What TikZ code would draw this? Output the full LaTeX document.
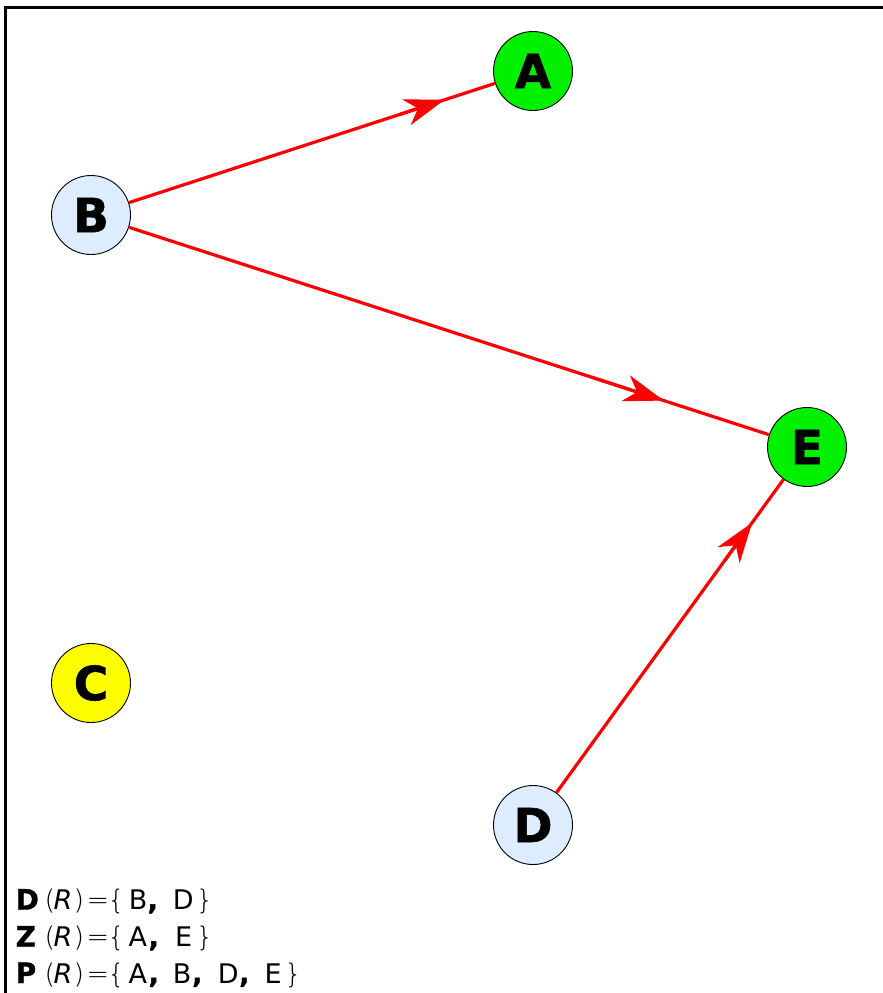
\documentclass[tikz,border=0pt]{standalone}
\usepackage{fontspec}
\setmainfont{DejaVu Sans}
\newfontfamily\heavyfont[FakeBold=1.2]{DejaVu Sans Bold}
\newfontfamily\lightfont{DejaVu Sans ExtraLight}
\usetikzlibrary{arrows.meta,calc}
\definecolor{nodegreen}{RGB}{0,240,0}
\definecolor{nodeyellow}{RGB}{255,255,0}
\definecolor{nodeblue}{RGB}{221,236,255}
\definecolor{edgered}{RGB}{255,0,0}
\tikzset{
  vertex/.style={circle, draw=black, line width=0.9pt, minimum size=79pt, inner sep=0pt,
    font=\fontsize{47}{50}\heavyfont},
  edge/.style={draw=edgered, line width=3.2pt},
  tip/.style={draw=edgered, line width=3.2pt, -{Stealth[length=40pt,width=27pt,inset=12pt,fill=edgered]}},
  legend/.style={anchor=base west, inner sep=0pt, font=\fontsize{27}{30}\selectfont}
}
\newcommand{\hv}[1]{{\heavyfont #1}}
\newcommand{\lt}[1]{{\lightfont #1}}
\newcommand{\pl}[2]{\rlap{\hspace*{#1pt}#2}}
\newcommand{\lhs}[1]{\pl{15}{{\fontsize{28}{30}\heavyfont #1}}\pl{44}{\lt{(}}\pl{53}{\textit{R}}\pl{73}{\lt{)}}\pl{86}{\lt{=}}\pl{107}{\lt{\{}}}
\begin{document}
\begin{tikzpicture}[x=1pt,y=-1pt]
\useasboundingbox (0,0) rectangle (883,993);
\fill[white] (0,0) rectangle (883,993);
\draw[line width=3pt] (5.5,1000) -- (5.5,7.5) -- (890,7.5);
\node[vertex, fill=nodegreen] (A) at (533,71) {A};
\node[vertex, fill=nodeblue] (B) at (91,215) {B};
\node[vertex, fill=nodeyellow] (C) at (91,683) {C};
\node[vertex, fill=nodeblue] (D) at (533,825) {D};
\node[vertex, fill=nodegreen] (E) at (807,447) {E};
\draw[edge] (B) -- (A);
\draw[edge] (B) -- (E);
\draw[edge] (D) -- (E);
\draw[tip] ($(B)!0.7!(A)$) -- ($(B)!0.8!(A)$);
\draw[tip] ($(B)!0.7!(E)$) -- ($(B)!0.8!(E)$);
\draw[tip] ($(D)!0.7!(E)$) -- ($(D)!0.8!(E)$);
\node[legend] (L1) at (0,909.5) {\lhs{D}\pl{128.3}{B}\pl{146.9}{\hv{,}}\pl{172.3}{D}\pl{195.4}{\lt{\}}}};
\node[legend] (L2) at (0,946.5) {\lhs{Z}\pl{127.8}{A}\pl{147.9}{\hv{,}}\pl{174.4}{E}\pl{195.4}{\lt{\}}}};
\node[legend] (L3) at (0,983) {\lhs{P}\pl{127.8}{A}\pl{147.9}{\hv{,}}\pl{172.3}{B}\pl{191.5}{\hv{,}}\pl{217.3}{D}\pl{238.5}{\hv{,}}\pl{264}{E}\pl{284}{\lt{\}}}};
\end{tikzpicture}
\end{document}
